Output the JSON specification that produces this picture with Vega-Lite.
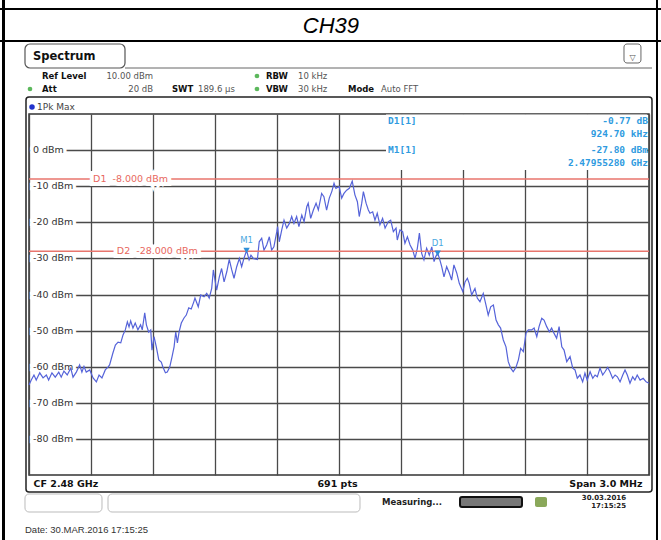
{
  "$schema": "https://vega.github.io/schema/vega-lite/v6.json",
  "width": 620,
  "height": 361,
  "autosize": {"type": "none"},
  "padding": {"left": 29, "top": 114, "right": 12, "bottom": 65},
  "background": "white",
  "config": {
    "view": {"stroke": "#333", "strokeWidth": 1.5},
    "axis": {"title": null},
    "text": {"font": "DejaVu Sans"}
  },
  "datasets": {
    "trace": [
      {"f":2478.500,"dbm":-65.1},{"f":2478.511,"dbm":-63.7},{"f":2478.524,"dbm":-62.3},{"f":2478.535,"dbm":-63.7},
      {"f":2478.552,"dbm":-61.7},{"f":2478.568,"dbm":-63.1},{"f":2478.584,"dbm":-62.3},{"f":2478.595,"dbm":-63.7},
      {"f":2478.611,"dbm":-61.7},{"f":2478.627,"dbm":-62.9},{"f":2478.644,"dbm":-61.5},{"f":2478.656,"dbm":-62.9},
      {"f":2478.669,"dbm":-61.2},{"f":2478.685,"dbm":-62.3},{"f":2478.702,"dbm":-60.4},{"f":2478.713,"dbm":-62.9},
      {"f":2478.729,"dbm":-61.5},{"f":2478.745,"dbm":-59.5},{"f":2478.756,"dbm":-61.5},{"f":2478.766,"dbm":-59.9},
      {"f":2478.777,"dbm":-61.5},{"f":2478.794,"dbm":-60.9},{"f":2478.810,"dbm":-63.1},{"f":2478.826,"dbm":-64.2},
      {"f":2478.839,"dbm":-62.3},{"f":2478.853,"dbm":-63.1},{"f":2478.869,"dbm":-60.9},{"f":2478.882,"dbm":-60.1},
      {"f":2478.890,"dbm":-59.5},{"f":2478.906,"dbm":-56.2},{"f":2478.918,"dbm":-54.0},{"f":2478.931,"dbm":-53.2},
      {"f":2478.944,"dbm":-53.4},{"f":2478.955,"dbm":-51.2},{"f":2478.966,"dbm":-49.8},{"f":2478.976,"dbm":-47.6},
      {"f":2478.984,"dbm":-49.0},{"f":2478.992,"dbm":-47.3},{"f":2479.003,"dbm":-49.3},{"f":2479.014,"dbm":-47.9},
      {"f":2479.027,"dbm":-49.8},{"f":2479.040,"dbm":-48.4},{"f":2479.048,"dbm":-49.8},{"f":2479.060,"dbm":-45.1},
      {"f":2479.068,"dbm":-48.4},{"f":2479.079,"dbm":-50.4},{"f":2479.089,"dbm":-49.8},{"f":2479.095,"dbm":-55.4},
      {"f":2479.105,"dbm":-51.7},{"f":2479.116,"dbm":-54.5},{"f":2479.128,"dbm":-58.1},{"f":2479.140,"dbm":-58.7},
      {"f":2479.148,"dbm":-60.1},{"f":2479.160,"dbm":-61.7},{"f":2479.169,"dbm":-61.5},{"f":2479.181,"dbm":-60.1},
      {"f":2479.192,"dbm":-57.3},{"f":2479.202,"dbm":-54.5},{"f":2479.210,"dbm":-50.4},{"f":2479.218,"dbm":-53.4},
      {"f":2479.226,"dbm":-50.4},{"f":2479.237,"dbm":-47.9},{"f":2479.250,"dbm":-46.5},{"f":2479.261,"dbm":-45.7},
      {"f":2479.273,"dbm":-43.7},{"f":2479.285,"dbm":-44.0},{"f":2479.297,"dbm":-42.1},{"f":2479.303,"dbm":-41.0},
      {"f":2479.319,"dbm":-43.4},{"f":2479.331,"dbm":-40.1},{"f":2479.347,"dbm":-40.6},{"f":2479.360,"dbm":-39.7},
      {"f":2479.372,"dbm":-41.0},{"f":2479.384,"dbm":-38.3},{"f":2479.392,"dbm":-33.2},{"f":2479.400,"dbm":-36.0},
      {"f":2479.408,"dbm":-38.8},{"f":2479.421,"dbm":-35.1},{"f":2479.432,"dbm":-32.8},{"f":2479.444,"dbm":-36.5},
      {"f":2479.457,"dbm":-33.7},{"f":2479.469,"dbm":-30.3},{"f":2479.481,"dbm":-33.2},{"f":2479.492,"dbm":-35.5},
      {"f":2479.505,"dbm":-32.3},{"f":2479.518,"dbm":-30.0},{"f":2479.529,"dbm":-32.3},{"f":2479.540,"dbm":-30.0},
      {"f":2479.5528,"dbm":-27.8},{"f":2479.565,"dbm":-30.4},{"f":2479.574,"dbm":-29.1},{"f":2479.585,"dbm":-30.0},
      {"f":2479.605,"dbm":-30.3},{"f":2479.614,"dbm":-25.4},{"f":2479.626,"dbm":-24.4},{"f":2479.637,"dbm":-27.7},
      {"f":2479.650,"dbm":-26.3},{"f":2479.663,"dbm":-24.0},{"f":2479.674,"dbm":-27.7},{"f":2479.685,"dbm":-26.8},
      {"f":2479.699,"dbm":-22.6},{"f":2479.703,"dbm":-21.2},{"f":2479.711,"dbm":-25.4},{"f":2479.723,"dbm":-22.1},
      {"f":2479.734,"dbm":-19.4},{"f":2479.747,"dbm":-21.6},{"f":2479.760,"dbm":-20.3},{"f":2479.771,"dbm":-18.4},
      {"f":2479.782,"dbm":-20.3},{"f":2479.795,"dbm":-18.4},{"f":2479.806,"dbm":-21.2},{"f":2479.820,"dbm":-18.0},
      {"f":2479.831,"dbm":-19.8},{"f":2479.844,"dbm":-15.7},{"f":2479.851,"dbm":-14.7},{"f":2479.863,"dbm":-18.9},
      {"f":2479.876,"dbm":-16.6},{"f":2479.889,"dbm":-14.7},{"f":2479.900,"dbm":-16.6},{"f":2479.916,"dbm":-12.0},
      {"f":2479.927,"dbm":-12.9},{"f":2479.940,"dbm":-16.6},{"f":2479.953,"dbm":-13.3},{"f":2479.965,"dbm":-11.5},
      {"f":2479.976,"dbm":-9.2},{"f":2479.985,"dbm":-10.6},{"f":2480.001,"dbm":-10.1},{"f":2480.013,"dbm":-13.3},
      {"f":2480.024,"dbm":-12.0},{"f":2480.037,"dbm":-11.1},{"f":2480.050,"dbm":-10.6},{"f":2480.064,"dbm":-8.6},
      {"f":2480.077,"dbm":-12.4},{"f":2480.089,"dbm":-14.3},{"f":2480.098,"dbm":-18.4},{"f":2480.110,"dbm":-14.7},
      {"f":2480.118,"dbm":-11.5},{"f":2480.131,"dbm":-14.7},{"f":2480.142,"dbm":-16.6},{"f":2480.150,"dbm":-17.5},
      {"f":2480.163,"dbm":-17.1},{"f":2480.174,"dbm":-19.4},{"f":2480.185,"dbm":-17.5},{"f":2480.198,"dbm":-20.7},
      {"f":2480.211,"dbm":-18.9},{"f":2480.223,"dbm":-21.6},{"f":2480.239,"dbm":-19.8},{"f":2480.250,"dbm":-19.4},
      {"f":2480.263,"dbm":-22.6},{"f":2480.276,"dbm":-21.6},{"f":2480.282,"dbm":-24.9},{"f":2480.295,"dbm":-22.1},
      {"f":2480.308,"dbm":-22.6},{"f":2480.319,"dbm":-25.8},{"f":2480.331,"dbm":-24.0},{"f":2480.344,"dbm":-26.3},
      {"f":2480.357,"dbm":-27.7},{"f":2480.368,"dbm":-30.0},{"f":2480.379,"dbm":-27.2},{"f":2480.389,"dbm":-23.0},
      {"f":2480.400,"dbm":-28.6},{"f":2480.411,"dbm":-30.4},{"f":2480.424,"dbm":-27.2},{"f":2480.437,"dbm":-29.1},
      {"f":2480.449,"dbm":-26.8},{"f":2480.460,"dbm":-30.9},{"f":2480.468,"dbm":-29.5},{"f":2480.4775,"dbm":-28.57},
      {"f":2480.486,"dbm":-30.0},{"f":2480.497,"dbm":-32.3},{"f":2480.508,"dbm":-35.1},{"f":2480.521,"dbm":-32.3},
      {"f":2480.534,"dbm":-34.1},{"f":2480.545,"dbm":-36.0},{"f":2480.556,"dbm":-31.8},{"f":2480.570,"dbm":-34.1},
      {"f":2480.582,"dbm":-36.9},{"f":2480.599,"dbm":-39.2},{"f":2480.610,"dbm":-36.5},{"f":2480.621,"dbm":-35.5},
      {"f":2480.630,"dbm":-36.9},{"f":2480.642,"dbm":-40.1},{"f":2480.658,"dbm":-38.3},{"f":2480.669,"dbm":-41.0},
      {"f":2480.682,"dbm":-42.0},{"f":2480.698,"dbm":-39.7},{"f":2480.711,"dbm":-42.9},{"f":2480.722,"dbm":-45.7},
      {"f":2480.734,"dbm":-43.4},{"f":2480.747,"dbm":-42.9},{"f":2480.760,"dbm":-47.1},{"f":2480.771,"dbm":-48.4},
      {"f":2480.782,"dbm":-49.3},{"f":2480.795,"dbm":-52.6},{"f":2480.808,"dbm":-54.5},{"f":2480.819,"dbm":-58.6},
      {"f":2480.831,"dbm":-60.4},{"f":2480.843,"dbm":-61.4},{"f":2480.856,"dbm":-60.2},{"f":2480.868,"dbm":-58.1},
      {"f":2480.879,"dbm":-54.9},{"f":2480.892,"dbm":-55.8},{"f":2480.905,"dbm":-50.7},{"f":2480.916,"dbm":-49.8},
      {"f":2480.932,"dbm":-49.8},{"f":2480.944,"dbm":-49.3},{"f":2480.957,"dbm":-51.7},{"f":2480.968,"dbm":-48.9},
      {"f":2480.981,"dbm":-46.6},{"f":2480.992,"dbm":-47.1},{"f":2481.005,"dbm":-48.9},{"f":2481.018,"dbm":-50.3},
      {"f":2481.029,"dbm":-49.3},{"f":2481.040,"dbm":-50.7},{"f":2481.053,"dbm":-52.1},{"f":2481.065,"dbm":-48.9},
      {"f":2481.078,"dbm":-54.5},{"f":2481.089,"dbm":-55.4},{"f":2481.102,"dbm":-58.6},{"f":2481.118,"dbm":-57.2},
      {"f":2481.131,"dbm":-60.4},{"f":2481.142,"dbm":-60.9},{"f":2481.153,"dbm":-63.2},{"f":2481.166,"dbm":-62.3},
      {"f":2481.179,"dbm":-64.2},{"f":2481.190,"dbm":-61.8},{"f":2481.201,"dbm":-63.7},{"f":2481.215,"dbm":-61.4},
      {"f":2481.228,"dbm":-63.2},{"f":2481.239,"dbm":-62.3},{"f":2481.250,"dbm":-62.8},{"f":2481.263,"dbm":-60.4},
      {"f":2481.276,"dbm":-62.3},{"f":2481.287,"dbm":-61.4},{"f":2481.300,"dbm":-60.2},{"f":2481.311,"dbm":-61.4},
      {"f":2481.324,"dbm":-63.2},{"f":2481.336,"dbm":-62.3},{"f":2481.347,"dbm":-62.8},{"f":2481.360,"dbm":-64.2},
      {"f":2481.373,"dbm":-62.3},{"f":2481.384,"dbm":-60.9},{"f":2481.395,"dbm":-62.3},{"f":2481.408,"dbm":-64.6},
      {"f":2481.421,"dbm":-62.8},{"f":2481.432,"dbm":-63.7},{"f":2481.443,"dbm":-62.3},{"f":2481.457,"dbm":-63.7},
      {"f":2481.472,"dbm":-63.2},{"f":2481.486,"dbm":-64.2},{"f":2481.500,"dbm":-64.6}
    ],
    "ylabels": [
      {"dbm": 0, "label": "0 dBm"}, {"dbm": -10, "label": "-10 dBm"}, {"dbm": -20, "label": "-20 dBm"},
      {"dbm": -30, "label": "-30 dBm"}, {"dbm": -40, "label": "-40 dBm"}, {"dbm": -50, "label": "-50 dBm"},
      {"dbm": -60, "label": "-60 dBm"}, {"dbm": -70, "label": "-70 dBm"}, {"dbm": -80, "label": "-80 dBm"}
    ],
    "lines": [
      {"line": "D1", "dbm": -8, "label": "D1\u00a0\u00a0-8.000 dBm"},
      {"line": "D2", "dbm": -28, "label": "D2\u00a0\u00a0-28.000 dBm"}
    ],
    "markers": [
      {"marker": "M1", "f": 2479.5528, "dbm": -27.8},
      {"marker": "D1", "f": 2480.4775, "dbm": -28.57}
    ]
  },
  "layer": [
    {
      "data": {"name": "trace"},
      "mark": {"type": "line", "color": "#5563d9", "strokeWidth": 0, "opacity": 0},
      "encoding": {
        "x": {
          "field": "f", "type": "quantitative",
          "scale": {"domain": [2478.5, 2481.5], "nice": false, "zero": false},
          "axis": {
            "values": [2478.5, 2478.8, 2479.1, 2479.4, 2479.7, 2480.0, 2480.3, 2480.6, 2480.9, 2481.2, 2481.5],
            "labelExpr": "datum.value < 2478.6 ? 'CF 2.48 GHz' : (abs(datum.value - 2480) < 0.01 ? '691 pts' : (datum.value > 2481.4 ? 'Span 3.0 MHz' : ''))",
            "labelAlign": {"expr": "datum.value < 2478.6 ? 'left' : (datum.value > 2481.4 ? 'right' : 'center')"},
            "labelOffset": {"expr": "datum.value < 2478.6 ? 4 : (datum.value > 2481.4 ? -7 : -2)"},
            "ticks": false, "domain": false, "grid": true, "gridColor": "#4a4a4a", "gridWidth": 1.3,
            "labelFont": "DejaVu Sans", "labelFontWeight": "bold", "labelFontSize": 9.5, "labelColor": "#111",
            "labelPadding": 3, "labelOverlap": false, "labelBound": false, "labelFlush": false, "title": null
          }
        },
        "y": {
          "field": "dbm", "type": "quantitative",
          "scale": {"domain": [-90, 10], "nice": false, "zero": false},
          "axis": {
            "values": [0, -10, -20, -30, -40, -50, -60, -70, -80],
            "labels": false,
            "ticks": false, "domain": false, "grid": true, "gridColor": "#4a4a4a", "gridWidth": 1.3,
            "title": null
          }
        }
      }
    },
    {
      "data": {"name": "ylabels"},
      "encoding": {
        "x": {"datum": 2478.5},
        "y": {"field": "dbm", "type": "quantitative"},
        "text": {"field": "label"}
      },
      "layer": [
        {"mark": {"type": "text", "align": "left", "baseline": "middle", "dx": 4, "fontSize": 9.5, "fill": "white", "stroke": "white", "strokeWidth": 7}},
        {"mark": {"type": "text", "align": "left", "baseline": "middle", "dx": 4, "fontSize": 9.5, "fill": "#333"}}
      ]
    },
    {
      "data": {"name": "trace"},
      "mark": {"type": "line", "color": "#5563d9", "strokeWidth": 1.2},
      "encoding": {
        "x": {"field": "f", "type": "quantitative"},
        "y": {"field": "dbm", "type": "quantitative"}
      }
    },
    {
      "data": {"values": [{}]},
      "mark": {"type": "rect", "fill": "white", "stroke": null},
      "encoding": {
        "x": {"datum": 2480.2274}, "x2": {"datum": 2481.49},
        "y": {"datum": 9.86}, "y2": {"datum": -5.51}
      }
    },
    {
      "data": {"name": "lines"},
      "mark": {"type": "rule", "color": "#e8756d", "strokeWidth": 1.4},
      "encoding": {"y": {"field": "dbm", "type": "quantitative"}}
    },
    {
      "data": {"name": "lines"},
      "transform": [{"filter": "datum.line == 'D1'"}],
      "encoding": {
        "x": {"datum": 2478.81},
        "y": {"field": "dbm", "type": "quantitative"},
        "text": {"field": "label"}
      },
      "layer": [
        {"mark": {"type": "text", "align": "left", "baseline": "middle", "fontSize": 9.5, "fill": "white", "stroke": "white", "strokeWidth": 8}},
        {"mark": {"type": "text", "align": "left", "baseline": "middle", "fontSize": 9.5, "fill": "#e8675e"}}
      ]
    },
    {
      "data": {"name": "lines"},
      "transform": [{"filter": "datum.line == 'D2'"}],
      "encoding": {
        "x": {"datum": 2478.925},
        "y": {"field": "dbm", "type": "quantitative"},
        "text": {"field": "label"}
      },
      "layer": [
        {"mark": {"type": "text", "align": "left", "baseline": "middle", "fontSize": 9.5, "fill": "white", "stroke": "white", "strokeWidth": 8}},
        {"mark": {"type": "text", "align": "left", "baseline": "middle", "fontSize": 9.5, "fill": "#e8675e"}}
      ]
    },
    {
      "data": {"name": "markers"},
      "encoding": {
        "x": {"field": "f", "type": "quantitative"},
        "y": {"field": "dbm", "type": "quantitative"}
      },
      "layer": [
        {"mark": {"type": "point", "shape": "triangle-down", "filled": true, "size": 40, "color": "#2f8fd8", "opacity": 1}},
        {"mark": {"type": "text", "dy": -10, "fontSize": 8.5, "color": "#4aa8e0"}, "encoding": {"text": {"field": "marker"}}}
      ]
    },
    {
      "data": {"values": [{}]},
      "layer": [
        {"mark": {"type": "text", "text": "D1[1]", "align": "left", "baseline": "middle", "font": "DejaVu Sans Mono", "fontWeight": "bold", "fontSize": 9.5, "color": "#2f9be0"},
         "encoding": {"x": {"datum": 2480.237}, "y": {"datum": 8.06}}},
        {"mark": {"type": "text", "text": "M1[1]", "align": "left", "baseline": "middle", "font": "DejaVu Sans Mono", "fontWeight": "bold", "fontSize": 9.5, "color": "#2f9be0"},
         "encoding": {"x": {"datum": 2480.237}, "y": {"datum": 0.03}}},
        {"mark": {"type": "text", "text": "-0.77 dB", "align": "right", "baseline": "middle", "font": "DejaVu Sans Mono", "fontWeight": "bold", "fontSize": 9.5, "color": "#2f9be0"},
         "encoding": {"x": {"datum": 2481.495}, "y": {"datum": 8.06}}},
        {"mark": {"type": "text", "text": "924.70 kHz", "align": "right", "baseline": "middle", "font": "DejaVu Sans Mono", "fontWeight": "bold", "fontSize": 9.5, "color": "#2f9be0"},
         "encoding": {"x": {"datum": 2481.495}, "y": {"datum": 4.46}}},
        {"mark": {"type": "text", "text": "-27.80 dBm", "align": "right", "baseline": "middle", "font": "DejaVu Sans Mono", "fontWeight": "bold", "fontSize": 9.5, "color": "#2f9be0"},
         "encoding": {"x": {"datum": 2481.495}, "y": {"datum": 0.03}}},
        {"mark": {"type": "text", "text": "2.47955280 GHz", "align": "right", "baseline": "middle", "font": "DejaVu Sans Mono", "fontWeight": "bold", "fontSize": 9.5, "color": "#2f9be0"},
         "encoding": {"x": {"datum": 2481.495}, "y": {"datum": -3.57}}}
      ]
    },
    {
      "data": {"values": [{}]},
      "layer": [
        {"mark": {"type": "rule", "color": "#000", "strokeWidth": 2},
         "encoding": {"x": {"datum": 2478.3597}, "x2": {"datum": 2481.558}, "y": {"datum": 39.09}}},
        {"mark": {"type": "rule", "color": "#000", "strokeWidth": 2},
         "encoding": {"x": {"datum": 2478.3597}, "x2": {"datum": 2481.558}, "y": {"datum": 30.22}}},
        {"mark": {"type": "rule", "color": "#000", "strokeWidth": 3},
         "encoding": {"x": {"datum": 2478.3766}, "y": {"datum": 41.58}, "y2": {"datum": -108.0}}},
        {"mark": {"type": "rule", "color": "#000", "strokeWidth": 2},
         "encoding": {"x": {"datum": 2481.5387}, "y": {"datum": 41.58}, "y2": {"datum": -108.0}}},
        {"mark": {"type": "text", "text": "CH39", "font": "Liberation Sans", "fontStyle": "italic", "fontSize": 22, "align": "center", "baseline": "middle", "color": "#000"},
         "encoding": {"x": {"datum": 2479.961}, "y": {"datum": 34.38}}},
        {"mark": {"type": "rect", "filled": false, "stroke": "#555", "strokeWidth": 1.2, "cornerRadius": 5},
         "encoding": {"x": {"datum": 2478.4806}, "x2": {"datum": 2478.9645}, "y": {"datum": 29.39}, "y2": {"datum": 22.74}}},
        {"mark": {"type": "rule", "color": "#666", "strokeWidth": 1},
         "encoding": {"x": {"datum": 2478.9645}, "x2": {"datum": 2481.5145}, "y": {"datum": 22.74}}},
        {"mark": {"type": "rect", "filled": false, "stroke": "#666", "strokeWidth": 1, "cornerRadius": 3},
         "encoding": {"x": {"datum": 2481.379}, "x2": {"datum": 2481.461}, "y": {"datum": 29.39}, "y2": {"datum": 24.13}}},
        {"mark": {"type": "text", "text": "▽", "fontSize": 8, "align": "center", "baseline": "middle", "color": "#555"},
         "encoding": {"x": {"datum": 2481.42}, "y": {"datum": 25.6}}},
        {"mark": {"type": "rect", "filled": false, "stroke": "#222", "strokeWidth": 1.5, "cornerRadius": 3},
         "encoding": {"x": {"datum": 2478.4855}, "x2": {"datum": 2481.5145}, "y": {"datum": 14.71}, "y2": {"datum": -94.71}}},
        {"mark": {"type": "text", "text": "Spectrum", "fontWeight": "bold", "fontSize": 11.5, "align": "left", "baseline": "middle", "color": "#111"},
         "encoding": {"x": {"datum": 2478.5194}, "y": {"datum": 25.79}}},
        {"mark": {"type": "text", "text": "Ref Level", "fontWeight": "bold", "fontSize": 8.5, "align": "left", "baseline": "middle", "color": "#111"},
         "encoding": {"x": {"datum": 2478.5629}, "y": {"datum": 20.53}}},
        {"mark": {"type": "text", "text": "10.00 dBm", "fontSize": 8.5, "align": "right", "baseline": "middle", "color": "#555"},
         "encoding": {"x": {"datum": 2479.1}, "y": {"datum": 20.53}}},
        {"mark": {"type": "text", "text": "Att", "fontWeight": "bold", "fontSize": 8.5, "align": "left", "baseline": "middle", "color": "#111"},
         "encoding": {"x": {"datum": 2478.5629}, "y": {"datum": 16.93}}},
        {"mark": {"type": "text", "text": "20 dB", "fontSize": 8.5, "align": "right", "baseline": "middle", "color": "#555"},
         "encoding": {"x": {"datum": 2479.1}, "y": {"datum": 16.93}}},
        {"mark": {"type": "text", "text": "SWT", "fontWeight": "bold", "fontSize": 8.5, "align": "left", "baseline": "middle", "color": "#111"},
         "encoding": {"x": {"datum": 2479.1919}, "y": {"datum": 16.93}}},
        {"mark": {"type": "text", "text": "189.6 µs", "fontSize": 8.5, "align": "left", "baseline": "middle", "color": "#555"},
         "encoding": {"x": {"datum": 2479.3177}, "y": {"datum": 16.93}}},
        {"mark": {"type": "text", "text": "RBW", "fontWeight": "bold", "fontSize": 8.5, "align": "left", "baseline": "middle", "color": "#111"},
         "encoding": {"x": {"datum": 2479.6468}, "y": {"datum": 20.53}}},
        {"mark": {"type": "text", "text": "10 kHz", "fontSize": 8.5, "align": "left", "baseline": "middle", "color": "#555"},
         "encoding": {"x": {"datum": 2479.8016}, "y": {"datum": 20.53}}},
        {"mark": {"type": "text", "text": "VBW", "fontWeight": "bold", "fontSize": 8.5, "align": "left", "baseline": "middle", "color": "#111"},
         "encoding": {"x": {"datum": 2479.6468}, "y": {"datum": 16.93}}},
        {"mark": {"type": "text", "text": "30 kHz", "fontSize": 8.5, "align": "left", "baseline": "middle", "color": "#555"},
         "encoding": {"x": {"datum": 2479.8016}, "y": {"datum": 16.93}}},
        {"mark": {"type": "text", "text": "Mode", "fontWeight": "bold", "fontSize": 8.5, "align": "left", "baseline": "middle", "color": "#111"},
         "encoding": {"x": {"datum": 2480.0435}, "y": {"datum": 16.93}}},
        {"mark": {"type": "text", "text": "Auto FFT", "fontSize": 8.5, "align": "left", "baseline": "middle", "color": "#555"},
         "encoding": {"x": {"datum": 2480.2032}, "y": {"datum": 16.93}}},
        {"mark": {"type": "point", "shape": "circle", "filled": true, "size": 22, "color": "#5cb85c", "opacity": 1},
         "encoding": {"x": {"datum": 2478.5048}, "y": {"datum": 16.93}}},
        {"mark": {"type": "point", "shape": "circle", "filled": true, "size": 22, "color": "#5cb85c", "opacity": 1},
         "encoding": {"x": {"datum": 2479.6032}, "y": {"datum": 20.53}}},
        {"mark": {"type": "point", "shape": "circle", "filled": true, "size": 22, "color": "#5cb85c", "opacity": 1},
         "encoding": {"x": {"datum": 2479.6032}, "y": {"datum": 16.93}}},
        {"mark": {"type": "point", "shape": "circle", "filled": true, "size": 30, "color": "#2233cc", "opacity": 1},
         "encoding": {"x": {"datum": 2478.5145}, "y": {"datum": 11.94}}},
        {"mark": {"type": "text", "text": "1Pk Max", "fontSize": 9, "align": "left", "baseline": "middle", "color": "#444"},
         "encoding": {"x": {"datum": 2478.5387}, "y": {"datum": 11.94}}},
        {"mark": {"type": "rect", "filled": false, "stroke": "#bbb", "strokeWidth": 1, "cornerRadius": 4},
         "encoding": {"x": {"datum": 2478.4806}, "x2": {"datum": 2478.8532}, "y": {"datum": -95.26}, "y2": {"datum": -100.25}}},
        {"mark": {"type": "rect", "filled": false, "stroke": "#bbb", "strokeWidth": 1, "cornerRadius": 4},
         "encoding": {"x": {"datum": 2478.8823}, "x2": {"datum": 2480.1016}, "y": {"datum": -95.26}, "y2": {"datum": -100.25}}},
        {"mark": {"type": "text", "text": "Measuring...", "fontWeight": "bold", "fontSize": 8.5, "align": "left", "baseline": "middle", "color": "#222"},
         "encoding": {"x": {"datum": 2480.208}, "y": {"datum": -97.48}}},
        {"mark": {"type": "rect", "fill": "#777", "stroke": "#111", "strokeWidth": 2, "cornerRadius": 2},
         "encoding": {"x": {"datum": 2480.5855}, "x2": {"datum": 2480.8855}, "y": {"datum": -96.09}, "y2": {"datum": -98.86}}},
        {"mark": {"type": "rect", "fill": "#8aa85a", "cornerRadius": 2},
         "encoding": {"x": {"datum": 2480.9484}, "x2": {"datum": 2481.0065}, "y": {"datum": -96.09}, "y2": {"datum": -98.86}}},
        {"mark": {"type": "text", "text": "30.03.2016", "fontWeight": "bold", "fontSize": 7, "align": "right", "baseline": "middle", "color": "#222"},
         "encoding": {"x": {"datum": 2481.389}, "y": {"datum": -96.37}}},
        {"mark": {"type": "text", "text": "17:15:25", "fontWeight": "bold", "fontSize": 7, "align": "right", "baseline": "middle", "color": "#222"},
         "encoding": {"x": {"datum": 2481.389}, "y": {"datum": -98.59}}},
        {"mark": {"type": "text", "text": "Date: 30.MAR.2016  17:15:25", "font": "Liberation Sans", "fontSize": 9.5, "align": "left", "baseline": "middle", "color": "#333"},
         "encoding": {"x": {"datum": 2478.4806}, "y": {"datum": -105.24}}}
      ]
    }
  ]
}
